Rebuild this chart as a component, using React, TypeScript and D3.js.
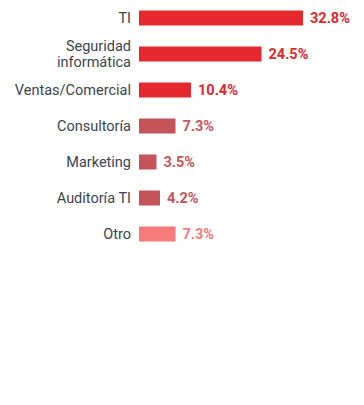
import React from "react";
import * as d3 from "d3";

const categories: string[][] = [
  ["TI"],
  ["Seguridad", "informática"],
  ["Ventas/Comercial"],
  ["Consultoría"],
  ["Marketing"],
  ["Auditoría TI"],
  ["Otro"],
];
const values: number[] = [32.8, 24.5, 10.4, 7.3, 3.5, 4.2, 7.3];
const valueLabels: string[] = ["32.8%", "24.5%", "10.4%", "7.3%", "3.5%", "4.2%", "7.3%"];
const barColors: string[] = ["#e5282d", "#e5282d", "#e5282d", "#c5545a", "#c5545a", "#c5545a", "#f77a7a"];
const textColors: string[] = ["#e0272d", "#e0272d", "#e0272d", "#c8555b", "#c8555b", "#c8555b", "#f27c7c"];

export default function App() {
  const width = 364;
  const height = 405;
  const x0 = 139;
  const x = d3.scaleLinear().domain([0, 32.8]).range([x0, 303]);
  const y = d3
    .scaleBand<number>()
    .domain(d3.range(values.length))
    .range([0, 252])
    .paddingInner(0.58)
    .paddingOuter(0.29);
  const bh = y.bandwidth();
  return (
    <svg
      width={width}
      height={height}
      style={{ position: "absolute", left: 0, top: 0, background: "#fff" }}
    >
      {values.map((v, i) => {
        const yc = (y(i) as number) + bh / 2;
        const lines = categories[i];
        const lh = 16.5;
        return (
          <g key={i}>
            <rect x={x(0)} y={yc - 7.5} width={x(v) - x(0)} height={15} fill={barColors[i]} />
            <text
              x={x(v) + 7}
              y={yc}
              dy="0.36em"
              fill={textColors[i]}
              fontFamily="Roboto, sans-serif"
              fontWeight={700}
              fontSize={14.5}
            >
              {valueLabels[i]}
            </text>
            {lines.map((t, j) => (
              <text
                key={j}
                x={131}
                y={yc + (j - (lines.length - 1) / 2) * lh}
                dy="0.36em"
                textAnchor="end"
                fill="#3a4450"
                fontFamily="Roboto, sans-serif"
                fontSize={14.5}
              >
                {t}
              </text>
            ))}
          </g>
        );
      })}
    </svg>
  );
}
